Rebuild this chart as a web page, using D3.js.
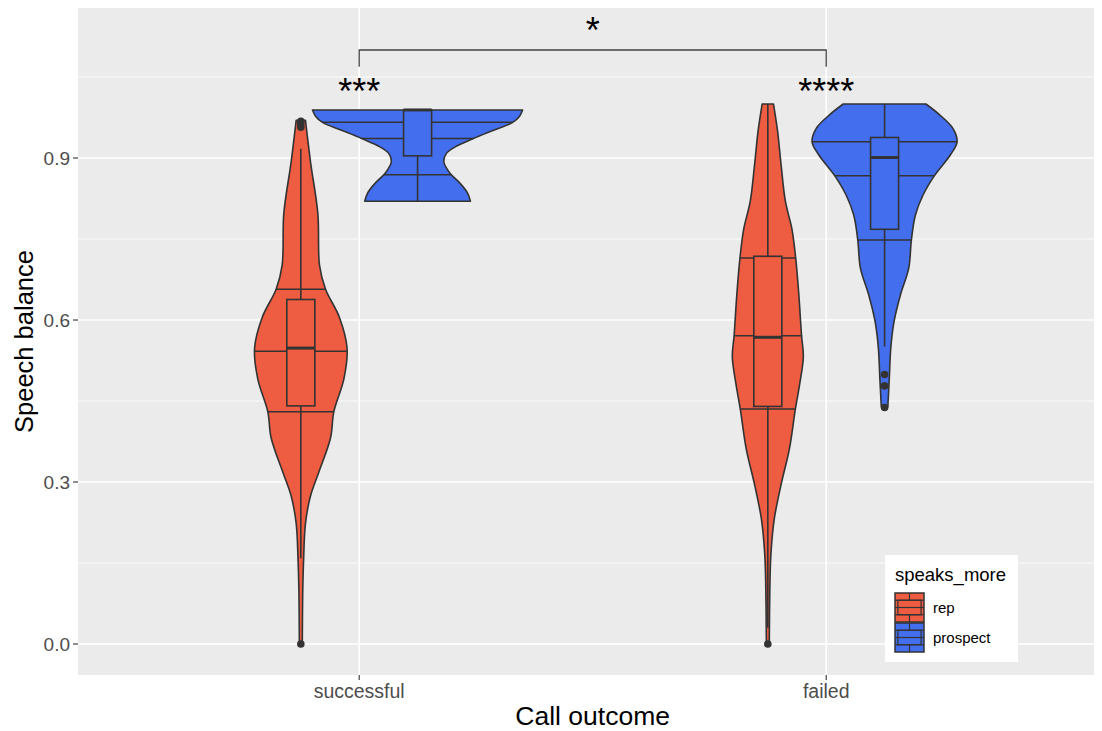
<!DOCTYPE html>
<html><head><meta charset="utf-8">
<script src="https://cdn.jsdelivr.net/npm/d3@7"></script>
<style>body{margin:0;background:#fff}svg{display:block}text{font-family:"Liberation Sans",Arial,sans-serif}</style>
</head><body><svg id="c" width="1102" height="731"></svg>
<script>
// ---------- data ----------
const categories = ["successful", "failed"];
const groups = ["rep", "prospect"];
const groupColors = ["#EE5C42", "#436EEE"];
const yTicks = [0, 0.3, 0.6, 0.9];
const yTickLabels = ["0.0", "0.3", "0.6", "0.9"];
const yMinorTicks = [0.15, 0.45, 0.75, 1.05];

// violin outlines: [speech balance, relative half width]
const successfulRepProfile = [
  [0.970, 0.044], [0.893, 0.092], [0.797, 0.162], [0.701, 0.178], [0.657, 0.235],
  [0.606, 0.365], [0.548, 0.440], [0.491, 0.410], [0.430, 0.314], [0.382, 0.283],
  [0.318, 0.171], [0.274, 0.092], [0.223, 0.044], [0.159, 0.027], [0.095, 0.018], [0.0, 0.014]
];
const successfulProspectProfile = [
  [0.989, 1.000], [0.977, 0.969], [0.966, 0.905], [0.952, 0.730], [0.936, 0.531],
  [0.921, 0.362], [0.909, 0.276], [0.893, 0.250], [0.878, 0.286], [0.869, 0.321],
  [0.853, 0.405], [0.835, 0.476], [0.820, 0.503]
];
const failedRepProfile = [
  [1.000, 0.054], [0.951, 0.092], [0.886, 0.127], [0.820, 0.167], [0.768, 0.230],
  [0.715, 0.265], [0.650, 0.294], [0.571, 0.321], [0.532, 0.338], [0.480, 0.302],
  [0.435, 0.262], [0.362, 0.206], [0.296, 0.127], [0.230, 0.060], [0.165, 0.029],
  [0.100, 0.019], [0.0, 0.014]
];
const failedProspectProfile = [
  [1.000, 0.393], [0.980, 0.524], [0.955, 0.650], [0.930, 0.690], [0.906, 0.627],
  [0.867, 0.473], [0.831, 0.365], [0.794, 0.293], [0.748, 0.255], [0.696, 0.230],
  [0.646, 0.150], [0.597, 0.090], [0.548, 0.059], [0.492, 0.045], [0.439, 0.031]
];

// violin quantile lines (25%, 50%, 75%)
const successfulRepQuantiles = [0.430, 0.542, 0.657];
const successfulProspectQuantiles = [0.869, 0.936, 0.966];
const failedRepQuantiles = [0.435, 0.571, 0.715];
const failedProspectQuantiles = [0.748, 0.867, 0.930];

// box stats: [whisker low, q1, median, q3, whisker high]
const successfulRepBox = [0.159, 0.441, 0.548, 0.638, 0.917];
const successfulProspectBox = [0.820, 0.904, 0.989, 0.989, 0.989];
const failedRepBox = [0.030, 0.440, 0.568, 0.718, 1.000];
const failedProspectBox = [0.551, 0.768, 0.901, 0.938, 1.000];

const successfulRepOutliers = [0.0, 0.957, 0.963, 0.968];
const successfulProspectOutliers = [];
const failedRepOutliers = [0.0];
const failedProspectOutliers = [0.438, 0.478, 0.499];

const withinLabels = ["***", "****"];
const betweenLabel = "*";
const bracketLevel = 1.10;
const bracketTip = 1.069;

// ---------- layout ----------
const W = 1102, H = 731;
const panel = {left: 78, right: 1094, top: 8, bottom: 675};
const unit = 467;
const dodge = 0.125 * unit;
const maxHalf = 0.225 * unit;
const boxWidth = 0.06 * unit;
const ink = "#333333";

const x = d3.scalePoint().domain(categories)
  .range([panel.left + 0.6 * unit + 1, panel.left + 1.6 * unit + 1]);
const y = d3.scaleLinear().domain([-0.0574, 1.1778]).range([panel.bottom, panel.top]);

const series = [
  {cat: "successful", g: 0, profile: successfulRepProfile, q: successfulRepQuantiles, box: successfulRepBox, out: successfulRepOutliers},
  {cat: "successful", g: 1, profile: successfulProspectProfile, q: successfulProspectQuantiles, box: successfulProspectBox, out: successfulProspectOutliers},
  {cat: "failed", g: 0, profile: failedRepProfile, q: failedRepQuantiles, box: failedRepBox, out: failedRepOutliers},
  {cat: "failed", g: 1, profile: failedProspectProfile, q: failedProspectQuantiles, box: failedProspectBox, out: failedProspectOutliers}
];

const svg = d3.select("#c");
svg.append("rect").attr("width", W).attr("height", H).attr("fill", "#fff");

// panel
svg.append("rect").attr("x", panel.left).attr("y", panel.top)
  .attr("width", panel.right - panel.left).attr("height", panel.bottom - panel.top)
  .attr("fill", "#EBEBEB");
const grid = svg.append("g");
grid.selectAll(".mn").data(yMinorTicks).join("line")
  .attr("x1", panel.left).attr("x2", panel.right)
  .attr("y1", d => y(d)).attr("y2", d => y(d))
  .attr("stroke", "#fff").attr("stroke-width", 0.8);
grid.selectAll(".mj").data(yTicks).join("line")
  .attr("x1", panel.left).attr("x2", panel.right)
  .attr("y1", d => y(d)).attr("y2", d => y(d))
  .attr("stroke", "#fff").attr("stroke-width", 1.6);
grid.selectAll(".vx").data(categories).join("line")
  .attr("x1", d => x(d)).attr("x2", d => x(d))
  .attr("y1", panel.top).attr("y2", panel.bottom)
  .attr("stroke", "#fff").attr("stroke-width", 1.6);

function widthAt(profile, v) {
  for (let i = 0; i < profile.length - 1; i++) {
    const [v0, w0] = profile[i], [v1, w1] = profile[i + 1];
    if (v <= v0 && v >= v1) return w0 + (w1 - w0) * (v - v0) / (v1 - v0);
  }
  return 0;
}
const curve = d3.line().curve(d3.curveCatmullRom.alpha(0.5));
function violinPath(cx, profile) {
  const right = profile.map(([v, w]) => [cx + w * maxHalf, y(v)]);
  const left = profile.map(([v, w]) => [cx - w * maxHalf, y(v)]).reverse();
  return curve(right) + curve(left).replace(/^M/, "L") + "Z";
}

const plot = svg.append("g");
series.forEach(s => {
  const cx = x(s.cat) + (s.g === 0 ? -dodge : dodge);
  s.cx = cx;
  plot.append("path").attr("d", violinPath(cx, s.profile))
    .attr("fill", groupColors[s.g]).attr("stroke", ink).attr("stroke-width", 1.6)
    .attr("stroke-linejoin", "round");
  plot.selectAll(null).data(s.q).join("line")
    .attr("x1", d => cx - widthAt(s.profile, d) * maxHalf)
    .attr("x2", d => cx + widthAt(s.profile, d) * maxHalf)
    .attr("y1", d => y(d)).attr("y2", d => y(d))
    .attr("stroke", ink).attr("stroke-width", 1.5);
});
series.forEach(s => {
  const cx = s.cx, b = s.box;
  const g = plot.append("g");
  g.append("line").attr("x1", cx).attr("x2", cx).attr("y1", y(b[0])).attr("y2", y(b[1]))
    .attr("stroke", ink).attr("stroke-width", 1.6);
  g.append("line").attr("x1", cx).attr("x2", cx).attr("y1", y(b[3])).attr("y2", y(b[4]))
    .attr("stroke", ink).attr("stroke-width", 1.6);
  g.append("rect").attr("x", cx - boxWidth / 2).attr("width", boxWidth)
    .attr("y", y(b[3])).attr("height", Math.max(0, y(b[1]) - y(b[3])))
    .attr("fill", groupColors[s.g]).attr("stroke", ink).attr("stroke-width", 1.6);
  g.append("line").attr("x1", cx - boxWidth / 2).attr("x2", cx + boxWidth / 2)
    .attr("y1", y(b[2])).attr("y2", y(b[2]))
    .attr("stroke", ink).attr("stroke-width", 3);
  g.selectAll("circle").data(s.out).join("circle")
    .attr("cx", cx).attr("cy", d => y(d)).attr("r", 3.8).attr("fill", ink);
});

// axes
const axisG = svg.append("g");
axisG.selectAll(".yt").data(yTicks).join("line")
  .attr("x1", panel.left - 5).attr("x2", panel.left)
  .attr("y1", d => y(d)).attr("y2", d => y(d)).attr("stroke", ink).attr("stroke-width", 1.1);
axisG.selectAll(".yl").data(yTicks).join("text")
  .attr("x", panel.left - 8).attr("y", d => y(d)).attr("dy", "0.35em")
  .attr("text-anchor", "end").attr("fill", "#4D4D4D").attr("font-size", 19)
  .text((d, i) => yTickLabels[i]);
axisG.selectAll(".xt").data(categories).join("line")
  .attr("x1", d => x(d)).attr("x2", d => x(d))
  .attr("y1", panel.bottom).attr("y2", panel.bottom + 5).attr("stroke", ink).attr("stroke-width", 1.1);
axisG.selectAll(".xl").data(categories).join("text")
  .attr("x", d => x(d)).attr("y", panel.bottom + 23)
  .attr("text-anchor", "middle").attr("fill", "#4D4D4D").attr("font-size", 19.5)
  .text(d => d);
svg.append("text").attr("x", (x(categories[0]) + x(categories[1])) / 2).attr("y", 725)
  .attr("text-anchor", "middle").attr("font-size", 26.5).attr("fill", "#000").text("Call outcome");
svg.append("text").attr("transform", `translate(33,${(panel.top + panel.bottom) / 2}) rotate(-90)`)
  .attr("text-anchor", "middle").attr("font-size", 25.5).attr("fill", "#000").text("Speech balance");

// significance annotations
const ann = svg.append("g");
ann.selectAll(".wl").data(categories).join("text")
  .attr("x", d => x(d)).attr("y", y(1.0))
  .attr("text-anchor", "middle").attr("font-size", 36).attr("fill", "#000")
  .text((d, i) => withinLabels[i]);
ann.append("path")
  .attr("d", `M${x(categories[0])},${y(bracketTip)}V${y(bracketLevel)}H${x(categories[1])}V${y(bracketTip)}`)
  .attr("fill", "none").attr("stroke", "#444").attr("stroke-width", 1.3);
ann.append("text").attr("x", (x(categories[0]) + x(categories[1])) / 2).attr("y", y(1.113))
  .attr("text-anchor", "middle").attr("font-size", 36).attr("fill", "#000").text(betweenLabel);

// legend
const lg = svg.append("g").attr("transform", "translate(885,555)");
lg.append("rect").attr("width", 133).attr("height", 107).attr("fill", "#fff");
lg.append("text").attr("x", 10).attr("y", 26).attr("font-size", 18.5).attr("fill", "#000").text("speaks_more");
groups.forEach((gname, i) => {
  const k = lg.append("g").attr("transform", `translate(10,${38 + i * 30})`);
  const s = 29;
  k.append("rect").attr("width", s).attr("height", s).attr("fill", groupColors[i])
    .attr("stroke", ink).attr("stroke-width", 1.5);
  k.append("line").attr("x1", s / 2).attr("x2", s / 2).attr("y1", 0).attr("y2", s * 0.25).attr("stroke", ink).attr("stroke-width", 1.2);
  k.append("line").attr("x1", s / 2).attr("x2", s / 2).attr("y1", s * 0.75).attr("y2", s).attr("stroke", ink).attr("stroke-width", 1.2);
  k.append("rect").attr("x", s * 0.1).attr("y", s * 0.25).attr("width", s * 0.8).attr("height", s * 0.5)
    .attr("fill", "none").attr("stroke", ink).attr("stroke-width", 1.2);
  [0.25, 0.5, 0.75].forEach(f => k.append("line").attr("x1", 0).attr("x2", s)
    .attr("y1", s * f).attr("y2", s * f).attr("stroke", ink).attr("stroke-width", 1.2));
  lg.append("text").attr("x", 48).attr("y", 38 + i * 30 + s / 2).attr("dy", "0.35em")
    .attr("font-size", 15).attr("fill", "#000").text(gname);
});
</script></body></html>
